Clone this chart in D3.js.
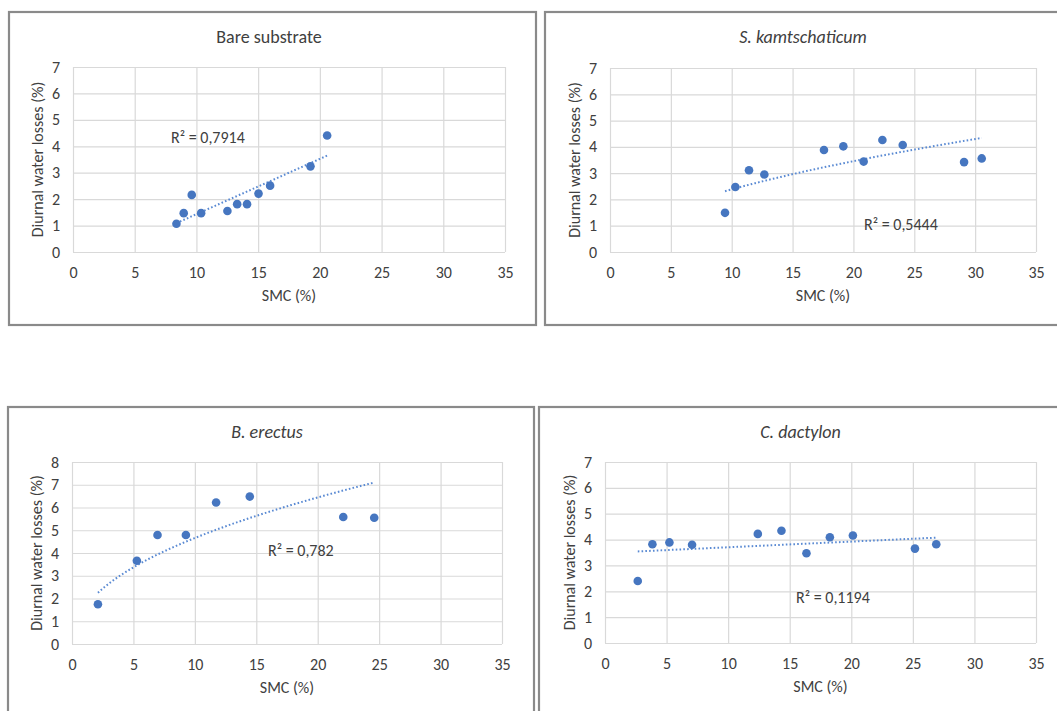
<!DOCTYPE html>
<html>
<head>
<meta charset="utf-8">
<script src="https://cdn.jsdelivr.net/npm/d3@7"></script>
<style>
  html, body { margin: 0; padding: 0; background: #ffffff; }
  svg { display: block; }
  text { font-family: Carlito, Calibri, Lato, "Noto Sans", sans-serif; fill: #404040; }
</style>
</head>
<body>
<svg id="chart" width="1057" height="711"></svg>
<script>
// Soil moisture content (SMC, %) and diurnal water losses (%) per cover type
const bareSMC    = [8.38, 8.97, 9.62, 10.38, 12.51, 13.3, 14.1, 15.03, 15.97, 19.24, 20.59];
const bareLoss   = [1.07, 1.47, 2.16, 1.47, 1.55, 1.81, 1.81, 2.21, 2.51, 3.24, 4.41];

const kamtSMC    = [9.45, 10.3, 11.42, 12.68, 17.58, 19.17, 20.84, 22.38, 24.05, 29.09, 30.54];
const kamtLoss   = [1.49, 2.47, 3.11, 2.95, 3.88, 4.02, 3.44, 4.26, 4.07, 3.42, 3.56];

const erectSMC   = [2.11, 5.28, 6.96, 9.27, 11.73, 14.47, 22.08, 24.6];
const erectLoss  = [1.75, 3.66, 4.79, 4.79, 6.22, 6.48, 5.58, 5.55];

const dactSMC    = [2.66, 3.85, 5.23, 7.07, 12.41, 14.33, 16.36, 18.26, 20.13, 25.17, 26.9];
const dactLoss   = [2.40, 3.82, 3.89, 3.80, 4.22, 4.34, 3.47, 4.09, 4.16, 3.65, 3.82];

const panelTitles = ["Bare substrate", "S. kamtschaticum", "B. erectus", "C. dactylon"];
const titleItalic = [false, true, true, true];
const trendTypes  = ["linear", "power", "power", "linear"];
const r2Labels    = ["R² = 0,7914", "R² = 0,5444", "R² = 0,782", "R² = 0,1194"];

const xTicks   = [0, 5, 10, 15, 20, 25, 30, 35];
const yTicks7  = [0, 1, 2, 3, 4, 5, 6, 7];
const yTicks8  = [0, 1, 2, 3, 4, 5, 6, 7, 8];

const xTitle = "SMC (%)";
const yTitle = "Diurnal water losses (%)";

// Layout of the four chart boxes (frame, plot area, label anchors)
const layout = [
  { frame: [9, 12, 527, 313],  plot: [73, 67, 505, 252],  r2: [98, 76] },
  { frame: [545, 12, 530, 313], plot: [610, 68, 1036, 252], r2: [254, 162] },
  { frame: [8, 407, 526, 330], plot: [72, 462, 502, 644], r2: [196, 94] },
  { frame: [539, 407, 530, 330], plot: [605, 462, 1036, 643], r2: [191, 141] }
];

const series = [
  { x: bareSMC,  y: bareLoss,  yTicks: yTicks7 },
  { x: kamtSMC,  y: kamtLoss,  yTicks: yTicks7 },
  { x: erectSMC, y: erectLoss, yTicks: yTicks8 },
  { x: dactSMC,  y: dactLoss,  yTicks: yTicks7 }
];

const POINT = "#4676c0";
const GRID = "#d9d9d9";
const FONT = "Carlito, Calibri, Lato, sans-serif";

// Least-squares trendlines (power fit done in log-log space)
function fit(xs, ys, type) {
  const tx = type === "power" ? xs.map(Math.log) : xs.slice();
  const ty = type === "power" ? ys.map(Math.log) : ys.slice();
  const mx = d3.mean(tx), my = d3.mean(ty);
  let sxy = 0, sxx = 0;
  tx.forEach((v, i) => { sxy += (v - mx) * (ty[i] - my); sxx += (v - mx) * (v - mx); });
  const b = sxy / sxx, a = my - b * mx;
  if (type === "power") return x => Math.exp(a) * Math.pow(x, b);
  return x => a + b * x;
}

const svg = d3.select("#chart");

layout.forEach((L, i) => {
  const s = series[i];
  const g = svg.append("g");
  const [fx, fy, fw, fh] = L.frame;
  const [x0, y0, x1, y1] = L.plot;

  // outer chart frame
  g.append("rect").attr("x", fx).attr("y", fy).attr("width", fw).attr("height", fh)
    .attr("fill", "#fff").attr("stroke", "#8a8a8a").attr("stroke-width", 2.2);

  const xScale = d3.scaleLinear().domain([0, 35]).range([x0, x1]);
  const yMax = d3.max(s.yTicks);
  const yScale = d3.scaleLinear().domain([0, yMax]).range([y1, y0]);

  // gridlines
  g.append("g").attr("transform", `translate(0,${y1})`)
    .call(d3.axisBottom(xScale).tickValues(xTicks).tickSize(-(y1 - y0)).tickFormat(""))
    .call(a => a.select(".domain").remove())
    .call(a => a.selectAll("line").attr("stroke", GRID).attr("stroke-width", 1.2));
  g.append("g").attr("transform", `translate(${x0},0)`)
    .call(d3.axisLeft(yScale).tickValues(s.yTicks).tickSize(-(x1 - x0)).tickFormat(""))
    .call(a => a.select(".domain").remove())
    .call(a => a.selectAll("line").attr("stroke", GRID).attr("stroke-width", 1.2));

  // tick labels
  g.append("g").attr("transform", `translate(0,${y1})`)
    .call(d3.axisBottom(xScale).tickValues(xTicks).tickSize(0).tickPadding(15).tickFormat(d3.format("d")))
    .call(a => a.select(".domain").remove())
    .call(a => a.selectAll("text").attr("font-size", 16).attr("fill", "#404040")
      .style("font-family", FONT));
  g.append("g").attr("transform", `translate(${x0},0)`)
    .call(d3.axisLeft(yScale).tickValues(s.yTicks).tickSize(0).tickPadding(13).tickFormat(d3.format("d")))
    .call(a => a.select(".domain").remove())
    .call(a => a.selectAll("text").attr("font-size", 16).attr("fill", "#404040")
      .style("font-family", FONT));

  // title
  g.append("text").attr("x", (x0 + x1) / 2 - 20).attr("y", fy + 31)
    .attr("text-anchor", "middle").attr("font-size", 18)
    .attr("font-style", titleItalic[i] ? "italic" : "normal")
    .text(panelTitles[i]);

  // axis titles
  g.append("text").attr("x", (x0 + x1) / 2).attr("y", y1 + 49)
    .attr("text-anchor", "middle").attr("font-size", 16).text(xTitle);
  g.append("text")
    .attr("transform", `translate(${x0 - 30},${(y0 + y1) / 2}) rotate(-90)`)
    .attr("text-anchor", "middle").attr("font-size", 16).text(yTitle);

  // dotted trendline across the observed SMC range
  const f = fit(s.x, s.y, trendTypes[i]);
  const [xmin, xmax] = d3.extent(s.x);
  const samples = d3.range(0, 61).map(k => xmin + (xmax - xmin) * k / 60);
  g.append("path")
    .attr("d", d3.line().x(d => xScale(d)).y(d => yScale(f(d)))(samples))
    .attr("fill", "none").attr("stroke", "#5a8ad3").attr("stroke-width", 2)
    .attr("stroke-dasharray", "1.6,2.2");

  // observations
  g.append("g").selectAll("circle").data(s.x.map((v, k) => [v, s.y[k]])).join("circle")
    .attr("cx", d => xScale(d[0])).attr("cy", d => yScale(d[1])).attr("r", 4.3)
    .attr("fill", POINT);

  // R² annotation
  g.append("text").attr("x", x0 + L.r2[0]).attr("y", y0 + L.r2[1])
    .attr("font-size", 16).text(r2Labels[i]);
});
</script>
</body>
</html>
